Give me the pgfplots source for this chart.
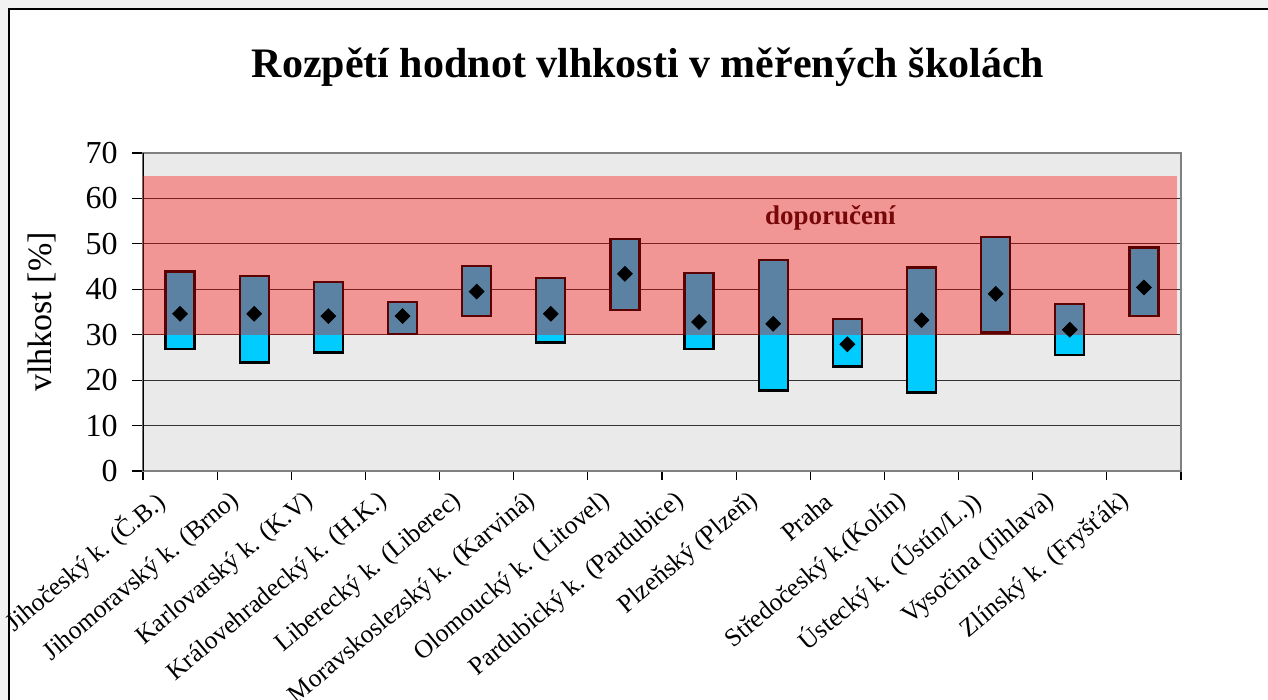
\documentclass[border=0pt]{standalone}
\usepackage{fontspec}
\setmainfont{Liberation Serif}
\usepackage{pgfplots}
\usepackage{pgfplotstable}
\pgfplotsset{compat=1.18}

\pgfplotstableread{
x low high mean
1 26.9 43.9 34.6
2 23.9 43.0 34.6
3 26.1 41.6 34.1
4 30.1 37.2 34.1
5 34.1 45.2 39.5
6 28.3 42.5 34.6
7 35.5 51.0 43.4
8 26.9 43.5 32.8
9 17.7 46.5 32.4
10 23.0 33.5 27.9
11 17.3 44.8 33.2
12 30.5 51.5 39.0
13 25.6 36.8 31.1
14 34.1 49.2 40.4
}\data

\pgfplotstableread{
x y
0.5 30
14.45 30
14.45 65
0.5 65
}\band

\definecolor{barcyan}{RGB}{0,204,255}
\definecolor{bgray}{RGB}{234,234,234}
\definecolor{dred}{RGB}{120,8,8}

\begin{document}
\begin{tikzpicture}
% bounding box & outer frame
\path[use as bounding box] (-71.5pt,-114.5pt) rectangle (562.5pt,235.5pt);
\fill[gray!10] (-71.5pt,231pt) rectangle (562.5pt,235.5pt);
\fill[gray!10] (-71.5pt,-114.5pt) rectangle (-67pt,235.5pt);
\draw[black, line width=0.9pt] (-67pt,-114.5pt) -- (-67pt,231pt) -- (562.5pt,231pt);

\begin{axis}[
  scale only axis,
  width=519pt, height=159pt,
  xmin=0.5, xmax=14.5,
  ymin=0, ymax=70,
  ybar stacked,
  bar width=14.5pt,
  ytick={0,10,...,70},
  ymajorgrids,
  grid style={black!80, line width=0.5pt},
  xtick={1,...,14},
  minor xtick={0.5,1.5,...,14.5},
  major x tick style={draw=none},
  tick pos=left,
  tick align=outside,
  major tick length=5.5pt,
  minor tick length=4.5pt,
  tick style={black, line width=0.6pt},
  axis background/.style={fill=bgray},
  axis line style={draw=gray, line width=1.3pt},
  /pgf/number format/assume math mode=true,
  yticklabel style={font=\fontsize{16}{19}\selectfont, inner sep=0pt},
  yticklabel shift=7pt,
  xticklabels={Jihočeský k. (Č.B.),Jihomoravský k. (Brno),Karlovarský k. (K.V),Královehradecký k. (H.K.),Liberecký k. (Liberec),Moravskoslezský k. (Karviná),Olomoucký k. (Litovel),Pardubický k. (Pardubice),Plzeňský (Plzeň),Praha,Středočeský k.(Kolín),Ústecký k. (Ústín/L.)),Vysočina (Jihlava),Zlínský k. (Fryšťák)},
  xticklabel style={font=\fontsize{12.8}{15}\selectfont, xshift=-9pt, rotate=40, anchor=east, inner sep=0pt},
  xticklabel shift=8pt,
  ylabel={vlhkost [\%]},
  ylabel style={font=\fontsize{17}{20}\selectfont, at={(axis description cs:-0.0973,0.5)}, anchor=center},
  title={Rozpětí hodnot vlhkosti v měřených školách},
  title style={font=\bfseries\fontsize{21}{25}\selectfont, at={(axis description cs:0.4865,1.2767)}, anchor=center, yshift=-7pt},
]
\addplot[draw=none, fill=none] table[x=x, y=low] {\data};
\addplot[draw=black, line width=1.1pt, fill=barcyan] table[x=x, y expr=\thisrow{high}-\thisrow{low}] {\data};
\draw[black, line width=1pt] (rel axis cs:0,0) -- (rel axis cs:0,1);
\end{axis}

\begin{axis}[
  scale only axis,
  width=519pt, height=159pt,
  xmin=0.5, xmax=14.5,
  ymin=0, ymax=70,
  hide axis,
  clip=false,
]
\addplot[only marks, mark=square*, mark size=2.6pt, mark options={rotate=45, fill=black, draw=black}] table[x=x, y=mean] {\data};
\addplot[draw=none, fill=red, fill opacity=0.36] table[x=x, y=y] {\band} -- cycle;
\node[text=dred, font=\bfseries\fontsize{13.5}{16}\selectfont] at (axis cs:9.77,55.7) {doporučení};
\end{axis}
\end{tikzpicture}
\end{document}
